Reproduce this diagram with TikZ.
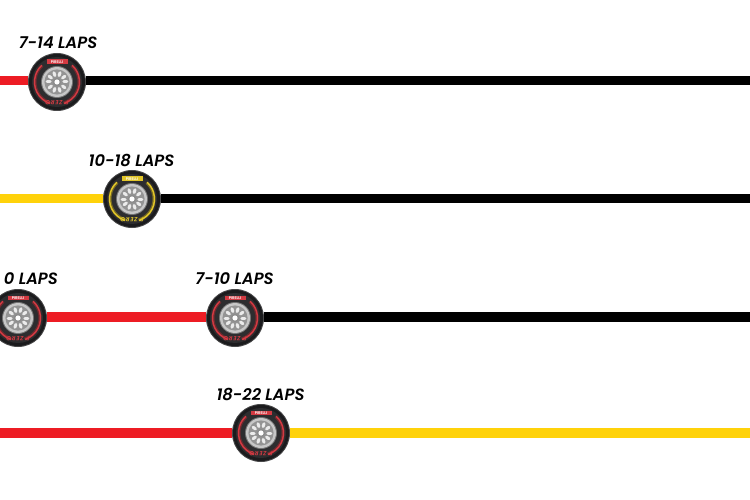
\documentclass[tikz,border=0pt]{standalone}
\usepackage{fontspec}
\setmainfont[BoldFont={Poppins SemiBold},BoldItalicFont={Poppins SemiBold Italic}]{Poppins}
\newfontface\zerofont[LetterSpace=12]{Poppins SemiBold Italic}
\definecolor{softred}{HTML}{ED1C24}
\definecolor{softyellow}{HTML}{FFD20A}
\definecolor{tyreblack}{HTML}{1B1B1D}
\definecolor{ringred}{HTML}{D23A42}
\definecolor{ringyellow}{HTML}{E2C62A}
\tikzset{
  stint/.style={line width=9.5pt},
  lapslabel/.style={font=\fontsize{16.3}{16.3}\selectfont\bfseries\itshape, text=black, inner sep=0pt},
  tyrenode/.style={circle, minimum size=58pt, inner sep=0pt, fill=tyreblack!80!white, draw=none}
}
% \tyre{name}{x}{y}{ring colour}
\newcommand{\tyre}[4]{%
  \node[tyrenode] (#1) at (#2,#3) {};
  \begin{scope}[shift={(#2,#3)}]
    \fill[tyreblack] (0,0) circle (28pt);
    \fill[tyreblack!92!white] (0,0) circle (25pt);
    \draw[#4!45!tyreblack, line width=3pt] (72:22) arc (72:-48:22);
    \draw[#4!45!tyreblack, line width=3pt] (108:22) arc (108:228:22);
    \draw[#4, line width=1.4pt] (72:22.5) arc (72:-48:22.5);
    \draw[#4, line width=1.4pt] (108:22.5) arc (108:228:22.5);
    \fill[#4] (-10.5,-22.5) rectangle (10.5,-18);
    \node[font=\fontsize{3.8}{4}\selectfont\bfseries, text=white, inner sep=0pt] (#1brand) at (0,-20.2) {PIRELLI};
    \node[font=\fontsize{6}{6}\zerofont, text=#4, inner sep=0pt, rotate=180] (#1zero) at (0,20.6) {P ZERO};
    \fill[black!55] (0,0) circle (16pt);
    \fill[black!22] (0,0) circle (15pt);
    \fill[black!42] (0,0) circle (12.6pt);
    \foreach \a in {0,36,...,324}
      \draw[white!92!black, line width=3pt, line cap=round] (\a:6.8) -- (\a:9.8);
    \fill[black!45] (0,0) circle (4.2pt);
    \fill[white] (0,0) circle (2.6pt);
  \end{scope}}
\begin{document}
\begin{tikzpicture}[x=1pt,y=-1pt]
  \useasboundingbox (0,0) rectangle (750,500);
  \clip (0,0) rectangle (750,500);
  \fill[white] (0,0) rectangle (750,500);
  % free ends of the lines
  \coordinate (r1w) at (-2,80.5);  \coordinate (r1e) at (752,80.5);
  \coordinate (r2w) at (-2,198.5); \coordinate (r2e) at (752,198.5);
  \coordinate (r3e) at (752,317);
  \coordinate (r4w) at (-2,433);   \coordinate (r4e) at (752,433);
  % row 1
  \tyre{ta}{57}{82}{ringred}
  \node[lapslabel] (la) at (58,43) {7-14 LAPS};
  % row 2
  \tyre{tb}{132}{199}{ringyellow}
  \node[lapslabel] (lb) at (131.5,160) {10-18 LAPS};
  % row 3
  \tyre{tc}{18}{318}{ringred}
  \tyre{td}{235}{318}{ringred}
  \node[lapslabel, anchor=east] (lc) at (58,279) {0 LAPS};
  \node[lapslabel] (ld) at (234.5,279) {7-10 LAPS};
  % row 4
  \tyre{te}{261}{433}{ringred}
  \node[lapslabel] (le) at (260.5,394) {18-22 LAPS};
  % connectors, from rim to rim
  \draw[stint, softred]    (r1w) -- (r1w -| ta.west);
  \draw[stint, black]      (r1w -| ta.east) -- (r1e);
  \draw[stint, softyellow] (r2w) -- (r2w -| tb.west);
  \draw[stint, black]      (r2w -| tb.east) -- (r2e);
  \draw[stint, softred]    (r3e -| tc.east) -- (r3e -| td.west);
  \draw[stint, black]      (r3e -| td.east) -- (r3e);
  \draw[stint, softred]    (r4w) -- (r4w -| te.west);
  \draw[stint, softyellow] (r4w -| te.east) -- (r4e);
\end{tikzpicture}
\end{document}
